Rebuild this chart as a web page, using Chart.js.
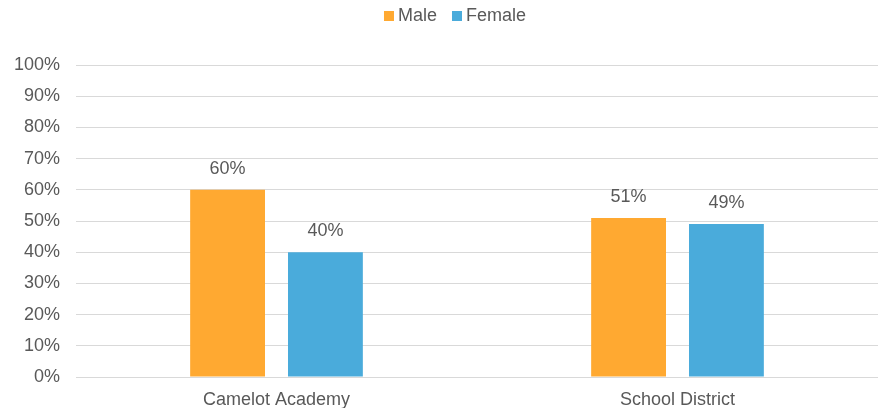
<!DOCTYPE html>
<html>
<head>
<meta charset="utf-8">
<script src="https://cdn.jsdelivr.net/npm/chart.js@4.4.1/dist/chart.umd.min.js"></script>
<style>
  html, body { margin: 0; padding: 0; background: #ffffff; }
  #wrap { width: 882px; height: 408px; position: relative; }
</style>
</head>
<body>
<div id="wrap"><canvas id="chart"></canvas></div>
<script>
// Gender split by school vs. district
const categories = ['Camelot Academy', 'School District'];
const maleValues = [60, 51];
const femaleValues = [40, 49];
const yTicks = [0, 10, 20, 30, 40, 50, 60, 70, 80, 90, 100];

const FONT = '"Liberation Sans", Arial, sans-serif';
const TEXT = '#595959';
const SIZE = 18;

// Draws the percentage above each bar
const valueLabels = {
  id: 'valueLabels',
  afterDatasetsDraw(chart) {
    const ctx = chart.ctx;
    ctx.save();
    ctx.font = SIZE + 'px ' + FONT;
    ctx.fillStyle = TEXT;
    ctx.textAlign = 'center';
    ctx.textBaseline = 'alphabetic';
    chart.data.datasets.forEach((ds, i) => {
      chart.getDatasetMeta(i).data.forEach((bar, j) => {
        ctx.fillText(ds.data[j] + '%', bar.x, bar.y - 16);
      });
    });
    ctx.restore();
  }
};

// Compact legend centred over the plot area: small square, tight gap, series name
const topLegend = {
  id: 'topLegend',
  afterDraw(chart) {
    const ctx = chart.ctx;
    const box = 10, gap = 4, itemGap = 15, cy = 16;
    const area = chart.chartArea;
    ctx.save();
    ctx.font = SIZE + 'px ' + FONT;
    ctx.textBaseline = 'middle';
    ctx.textAlign = 'left';
    const items = chart.data.datasets.map(ds => ({
      label: ds.label, color: ds.backgroundColor,
      w: box + gap + ctx.measureText(ds.label).width
    }));
    const total = items.reduce((s, it) => s + it.w, 0) + itemGap * (items.length - 1);
    let x = (area.left + area.right - total) / 2 - 22;
    items.forEach(it => {
      ctx.fillStyle = it.color;
      ctx.fillRect(x, cy - box / 2, box, box);
      ctx.fillStyle = TEXT;
      ctx.fillText(it.label, x + box + gap, cy);
      x += it.w + itemGap;
    });
    ctx.restore();
  }
};

new Chart(document.getElementById('chart'), {
  type: 'bar',
  data: {
    labels: categories,
    datasets: [
      { label: 'Male', data: maleValues, backgroundColor: '#FFA931', borderWidth: 0 },
      { label: 'Female', data: femaleValues, backgroundColor: '#4AABDB', borderWidth: 0 }
    ]
  },
  options: {
    responsive: true,
    maintainAspectRatio: false,
    animation: false,
    layout: { padding: { top: 65, right: 4, bottom: 0, left: 0 } },
    datasets: {
      bar: { categoryPercentage: 0.488, barPercentage: 0.765 }
    },
    plugins: {
      legend: { display: false },
      tooltip: { enabled: false }
    },
    scales: {
      x: {
        grid: { display: false, drawTicks: false },
        border: { display: false },
        ticks: { font: { family: FONT, size: SIZE }, color: TEXT, padding: 12 },
        afterFit(s) { s.height = 31; }
      },
      y: {
        min: 0,
        max: 100,
        afterBuildTicks(s) { s.ticks = yTicks.map(v => ({ value: v })); },
        grid: { color: '#d9d9d9', lineWidth: 1, drawTicks: false },
        border: { display: false },
        ticks: {
          font: { family: FONT, size: SIZE },
          color: TEXT,
          padding: 16,
          callback: v => v + '%'
        },
        afterFit(s) { s.width = 76; }
      }
    }
  },
  plugins: [valueLabels, topLegend]
});
</script>
</body>
</html>
